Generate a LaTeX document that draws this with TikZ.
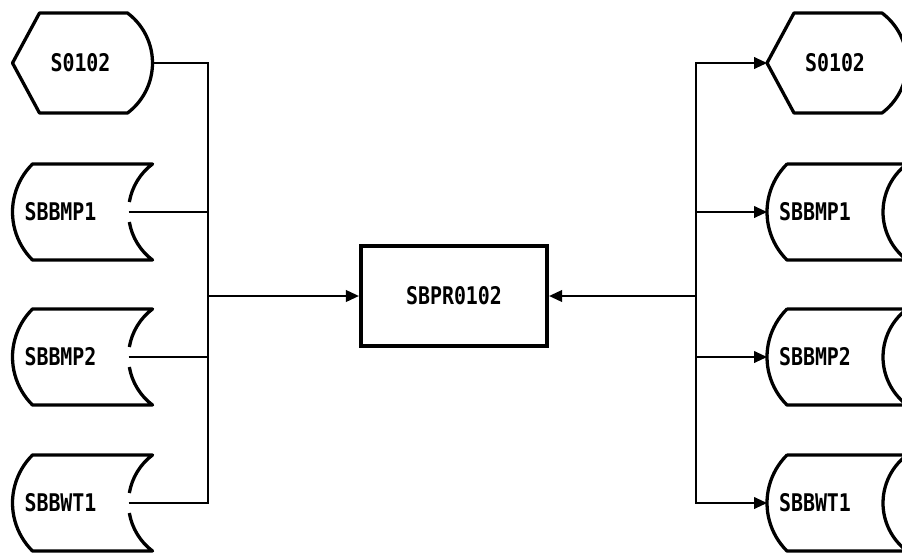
\documentclass[tikz,border=0pt]{standalone}
\usepackage{fontspec}
\usepackage{graphicx}
\setmonofont{DejaVu Sans Mono}
\usetikzlibrary{arrows.meta}

\newcommand{\tall}[1]{\scalebox{1}[1.22]{#1}}

\tikzset{
    file/.style={font=\ttfamily\bfseries\fontsize{17}{18}\selectfont, inner sep=0pt},
    outline/.style={line width=2.8pt, line join=round},
    link/.style={line width=1.2pt},
    prog/.style={draw, line width=3.4pt, minimum width=159pt, minimum height=86pt,
        font=\ttfamily\bfseries\fontsize{17}{18}\selectfont}
}

\begin{document}
\begin{tikzpicture}[x=0.03cm, y=-0.03cm, >={Triangle[length=11pt,width=10pt]}]
    \useasboundingbox (0,0) rectangle (902,554);

    % display shapes, pointed left and rounded right
    \foreach \nm/\cx in {hexL/82.5, hexR/837} {
        \draw[outline] ({\cx-70},63) -- ({\cx-43},13) -- ({\cx+45},13)
            arc[start angle=-53.13, end angle=53.13, radius=62.5]
            -- ({\cx-43},113) -- cycle;
        \node[file] (\nm) at ({\cx-2},63) {\tall{S0102}};
        \coordinate (\nm-in) at ({\cx-70},63);
        \coordinate (\nm-out) at ({\cx+70},63);
    }

    % stored data on the left, broken where the line leaves
    \foreach \nm/\txt/\cy in {bmpAL/SBBMP1/212, bmpBL/SBBMP2/357, bwtL/SBBWT1/503} {
        \draw[outline] ({188.5+60*cos(170.4)},{\cy+60*sin(170.4)})
            arc[start angle=170.4, end angle=126.87, radius=60]
            -- (32.5,{\cy+48}) arc[start angle=134.76, end angle=225.24, radius=67.6]
            -- (152.5,{\cy-48}) arc[start angle=233.13, end angle=189.6, radius=60];
        \node[file] (\nm) at (60.5,\cy) {\tall{\txt}};
        \coordinate (\nm-out) at (128.5,\cy);
    }

    % stored data on the right
    \foreach \nm/\txt/\cy in {bmpAR/SBBMP1/212, bmpBR/SBBMP2/357, bwtR/SBBWT1/503} {
        \draw[outline] (787,{\cy-48}) -- (907,{\cy-48})
            arc[start angle=233.13, end angle=126.87, radius=60]
            -- (787,{\cy+48}) arc[start angle=134.76, end angle=225.24, radius=67.6]
            -- cycle;
        \node[file] (\nm) at (815,\cy) {\tall{\txt}};
        \coordinate (\nm-in) at (767,\cy);
    }

    \node[prog] (pr) at (454,296) {\tall{SBPR0102}};

    \coordinate (busL) at (208,296);
    \coordinate (busR) at (696,296);

    \draw[link] (hexL-out) -| (busL);
    \draw[link] (bwtL-out) -| (busL);
    \foreach \nm in {bmpAL, bmpBL}
        \draw[link] (\nm-out) -- (\nm-out -| busL);
    \draw[link, ->] (busL) -- (pr);

    \draw[link, ->] (busR) |- (hexR-in);
    \draw[link, ->] (busR) |- (bwtR-in);
    \foreach \nm in {bmpAR, bmpBR}
        \draw[link, ->] (\nm-in -| busR) -- (\nm-in);
    \draw[link, ->] (busR) -- (pr);
\end{tikzpicture}
\end{document}
